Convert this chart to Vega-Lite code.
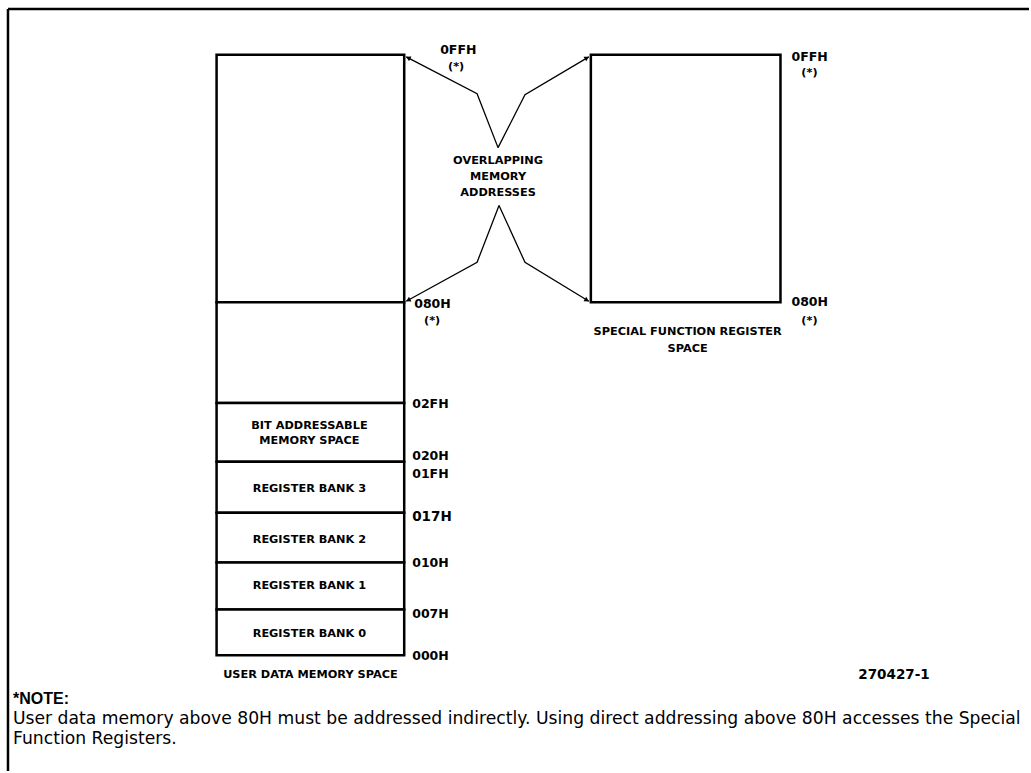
{
  "$schema": "https://vega.github.io/schema/vega-lite/v6.json",
  "width": 1031,
  "height": 773,
  "padding": 0,
  "autosize": {"type": "fit", "contains": "padding"},
  "view": {"stroke": null},
  "config": {"view": {"stroke": null}, "background": "white"},
  "datasets": {
    "border": [
      {"x": 8, "y": 9, "x2": 1031, "y2": 9},
      {"x": 8, "y": 9, "x2": 8, "y2": 773}
    ],
    "boxes": [
      {"name": "upper user memory 080H-0FFH", "x": 217, "x2": 405, "y": 55, "y2": 303},
      {"name": "general 030H-07FH", "x": 217, "x2": 405, "y": 303, "y2": 404},
      {"name": "bit addressable", "x": 217, "x2": 405, "y": 404, "y2": 463},
      {"name": "bank 3", "x": 217, "x2": 405, "y": 463, "y2": 514},
      {"name": "bank 2", "x": 217, "x2": 405, "y": 514, "y2": 564},
      {"name": "bank 1", "x": 217, "x2": 405, "y": 564, "y2": 611},
      {"name": "bank 0", "x": 217, "x2": 405, "y": 611, "y2": 657},
      {"name": "SFR space", "x": 592, "x2": 782, "y": 55, "y2": 303}
    ],
    "arrows": [
      {"path": "a1", "ord": 0, "x": 499, "y": 148},
      {"path": "a1", "ord": 1, "x": 478, "y": 94},
      {"path": "a1", "ord": 2, "x": 407, "y": 57},
      {"path": "a2", "ord": 0, "x": 499, "y": 148},
      {"path": "a2", "ord": 1, "x": 526, "y": 95},
      {"path": "a2", "ord": 2, "x": 590, "y": 57},
      {"path": "a3", "ord": 0, "x": 500, "y": 206},
      {"path": "a3", "ord": 1, "x": 478, "y": 263},
      {"path": "a3", "ord": 2, "x": 407, "y": 302},
      {"path": "a4", "ord": 0, "x": 500, "y": 206},
      {"path": "a4", "ord": 1, "x": 526, "y": 263},
      {"path": "a4", "ord": 2, "x": 590, "y": 302}
    ],
    "heads": [
      {"path": "a1", "x": 409, "y": 58, "dir": 207.5},
      {"path": "a2", "x": 588, "y": 58, "dir": 329.3},
      {"path": "a3", "x": 409, "y": 301, "dir": 151.2},
      {"path": "a4", "x": 588, "y": 301, "dir": 31.4}
    ],
    "centerLabels": [
      {"text": "OVERLAPPING", "x": 499, "y": 161},
      {"text": "MEMORY", "x": 499, "y": 177},
      {"text": "ADDRESSES", "x": 499, "y": 193},
      {"text": "(*)", "x": 457, "y": 67},
      {"text": "(*)", "x": 433, "y": 322},
      {"text": "(*)", "x": 811, "y": 73},
      {"text": "(*)", "x": 811, "y": 322},
      {"text": "SPECIAL FUNCTION REGISTER", "x": 689, "y": 333},
      {"text": "SPACE", "x": 689, "y": 350},
      {"text": "BIT ADDRESSABLE", "x": 310, "y": 427},
      {"text": "MEMORY SPACE", "x": 310, "y": 442},
      {"text": "REGISTER BANK 3", "x": 310, "y": 490},
      {"text": "REGISTER BANK 2", "x": 310, "y": 541},
      {"text": "REGISTER BANK 1", "x": 310, "y": 588},
      {"text": "REGISTER BANK 0", "x": 310, "y": 636},
      {"text": "USER DATA MEMORY SPACE", "x": 311, "y": 677}
    ],
    "addrLabels": [
      {"text": "0FFH", "x": 441, "y": 50},
      {"text": "080H", "x": 415, "y": 305},
      {"text": "0FFH", "x": 793, "y": 57},
      {"text": "080H", "x": 793, "y": 303},
      {"text": "02FH", "x": 413, "y": 405},
      {"text": "020H", "x": 413, "y": 457},
      {"text": "01FH", "x": 413, "y": 475},
      {"text": "010H", "x": 413, "y": 564},
      {"text": "007H", "x": 413, "y": 616},
      {"text": "000H", "x": 413, "y": 658}
    ],
    "addrLarge": [
      {"text": "017H", "x": 413, "y": 518}
    ],
    "figId": [
      {"text": "270427-1", "x": 860, "y": 677}
    ],
    "noteTitle": [
      {"text": "*NOTE:", "x": 13, "y": 701}
    ],
    "noteText": [
      {"text": "User data memory above 80H must be addressed indirectly. Using direct addressing above 80H accesses the Special", "x": 13, "y": 721},
      {"text": "Function Registers.", "x": 13, "y": 741}
    ]
  },
  "encoding": {
    "x": {"field": "x", "type": "quantitative", "scale": {"domain": [0, 1031], "nice": false, "zero": false}, "axis": null},
    "y": {"field": "y", "type": "quantitative", "scale": {"domain": [0, 773], "nice": false, "zero": false, "reverse": true}, "axis": null}
  },
  "layer": [
    {
      "data": {"name": "border"},
      "mark": {"type": "rule", "stroke": "black", "strokeWidth": 2.5},
      "encoding": {"x2": {"field": "x2"}, "y2": {"field": "y2"}}
    },
    {
      "data": {"name": "boxes"},
      "mark": {"type": "rect", "fill": "white", "stroke": "black", "strokeWidth": 2.5},
      "encoding": {"x2": {"field": "x2"}, "y2": {"field": "y2"}}
    },
    {
      "data": {"name": "arrows"},
      "mark": {"type": "line", "stroke": "black", "strokeWidth": 1.3},
      "encoding": {"detail": {"field": "path"}, "order": {"field": "ord"}}
    },
    {
      "data": {"name": "heads"},
      "mark": {"type": "point", "shape": "triangle-right", "filled": true, "color": "black", "size": 28, "opacity": 1},
      "encoding": {"angle": {"field": "dir", "type": "quantitative", "scale": null}}
    },
    {
      "data": {"name": "centerLabels"},
      "mark": {"type": "text", "align": "center", "baseline": "middle", "font": "DejaVu Sans", "fontWeight": "bold", "fontSize": 11.3, "color": "black"},
      "encoding": {"text": {"field": "text"}}
    },
    {
      "data": {"name": "addrLabels"},
      "mark": {"type": "text", "align": "left", "baseline": "middle", "font": "DejaVu Sans", "fontWeight": "bold", "fontSize": 12.5, "color": "black"},
      "encoding": {"text": {"field": "text"}}
    },
    {
      "data": {"name": "addrLarge"},
      "mark": {"type": "text", "align": "left", "baseline": "middle", "font": "DejaVu Sans", "fontWeight": "bold", "fontSize": 13.5, "color": "black"},
      "encoding": {"text": {"field": "text"}}
    },
    {
      "data": {"name": "figId"},
      "mark": {"type": "text", "align": "left", "baseline": "middle", "font": "DejaVu Sans", "fontWeight": "bold", "fontSize": 13.5, "color": "black"},
      "encoding": {"text": {"field": "text"}}
    },
    {
      "data": {"name": "noteTitle"},
      "mark": {"type": "text", "align": "left", "baseline": "middle", "font": "Liberation Sans", "fontWeight": "bold", "fontSize": 16, "color": "black"},
      "encoding": {"text": {"field": "text"}}
    },
    {
      "data": {"name": "noteText"},
      "mark": {"type": "text", "align": "left", "baseline": "middle", "font": "DejaVu Sans", "fontSize": 17.2, "color": "black"},
      "encoding": {"text": {"field": "text"}}
    }
  ]
}
